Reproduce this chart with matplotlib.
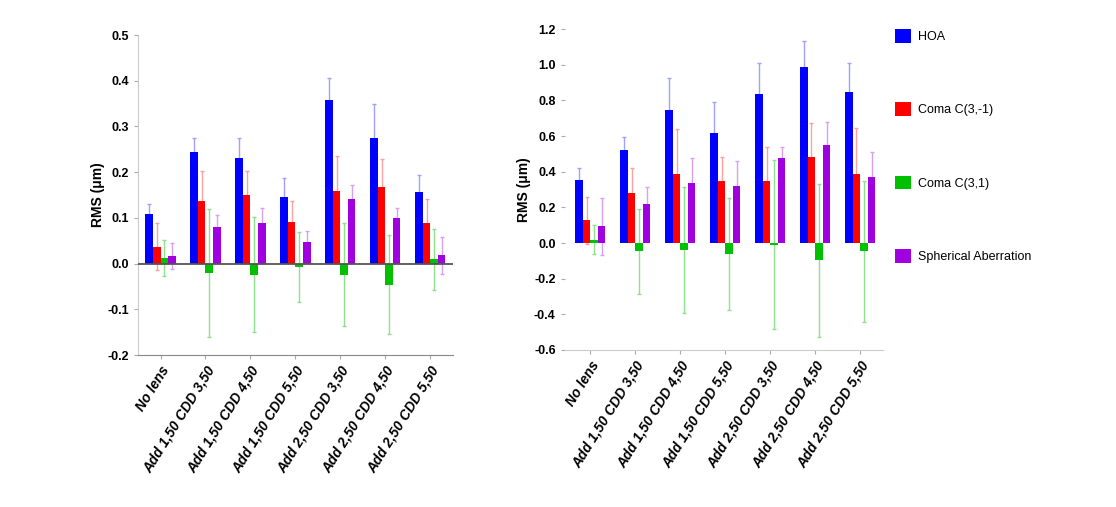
import matplotlib.pyplot as plt
import numpy as np

plt.rcParams['font.family'] = ['Liberation Sans', 'DejaVu Sans']

groups = ["No lens", "Add 1,50 CDD 3,50", "Add 1,50 CDD 4,50", "Add 1,50 CDD 5,50",
          "Add 2,50 CDD 3,50", "Add 2,50 CDD 4,50", "Add 2,50 CDD 5,50"]
series = ["HOA", "Coma C(3,-1)", "Coma C(3,1)", "Spherical Aberration"]

# left panel (mean, sd)
hoa_l = [0.108, 0.244, 0.231, 0.145, 0.359, 0.274, 0.156]
hoa_l_sd = [0.022, 0.030, 0.043, 0.042, 0.048, 0.076, 0.037]
cm1_l = [0.037, 0.138, 0.150, 0.092, 0.158, 0.168, 0.089]
cm1_l_sd = [0.052, 0.064, 0.052, 0.045, 0.077, 0.061, 0.052]
cp1_l = [0.012, -0.021, -0.024, -0.008, -0.024, -0.046, 0.009]
cp1_l_sd = [0.040, 0.140, 0.126, 0.077, 0.113, 0.109, 0.067]
sph_l = [0.016, 0.080, 0.088, 0.047, 0.142, 0.100, 0.018]
sph_l_sd = [0.028, 0.026, 0.034, 0.025, 0.029, 0.022, 0.040]

# right panel (mean, sd)
hoa_r = [0.352, 0.521, 0.745, 0.618, 0.833, 0.989, 0.846]
hoa_r_sd = [0.071, 0.075, 0.182, 0.174, 0.174, 0.144, 0.161]
cm1_r = [0.127, 0.281, 0.386, 0.345, 0.345, 0.481, 0.386]
cm1_r_sd = [0.130, 0.142, 0.253, 0.136, 0.196, 0.193, 0.260]
cp1_r = [0.019, -0.047, -0.039, -0.062, -0.010, -0.097, -0.047]
cp1_r_sd = [0.080, 0.240, 0.355, 0.315, 0.475, 0.430, 0.395]
sph_r = [0.094, 0.221, 0.337, 0.318, 0.474, 0.552, 0.371]
sph_r_sd = [0.160, 0.094, 0.137, 0.141, 0.065, 0.124, 0.140]

colors = ['#0000ff', '#ff0000', '#00c000', '#a000e0']
err_colors = ['#a0a0ff', '#ffa0a0', '#90e090', '#d8a0f0']

fig = plt.figure(figsize=(11.16, 5.07), dpi=100)
ax1 = fig.add_axes([0.1237, 0.2998, 0.282, 0.631])
ax2 = fig.add_axes([0.506, 0.3097, 0.285, 0.633])

x = np.arange(len(groups))
w = 0.168
offsets = [-1.5 * w, -0.5 * w, 0.5 * w, 1.5 * w]


def draw(ax, means, sds):
    handles = []
    for i in range(4):
        xs = x + offsets[i]
        ax.errorbar(xs, means[i], yerr=sds[i], fmt='none', ecolor=err_colors[i],
                    elinewidth=1, capsize=1.5, capthick=1, zorder=1)
        b = ax.bar(xs, means[i], width=w, color=colors[i], edgecolor='none',
                   label=series[i], zorder=2)
        handles.append(b)
    ax.set_xticks(x)
    ax.set_xticklabels(groups, rotation=58, ha='right', rotation_mode='anchor',
                       fontsize=10, fontstyle='italic', fontweight='bold')
    ax.set_ylabel('RMS (\u03bcm)', fontsize=10, fontweight='bold', labelpad=2)
    for s in ['top', 'right']:
        ax.spines[s].set_visible(False)
    return handles


handles = draw(ax1, [hoa_l, cm1_l, cp1_l, sph_l], [hoa_l_sd, cm1_l_sd, cp1_l_sd, sph_l_sd])
ax1.set_xlim(-0.5, 6.5)
ax1.set_ylim(-0.2, 0.5)
ax1.set_yticks(np.arange(-0.2, 0.51, 0.1))
ax1.set_yticklabels(['%.1f' % v for v in np.arange(-0.2, 0.51, 0.1)], fontsize=9, fontweight='bold')
ax1.axhline(0, color='#555555', lw=1.3, zorder=3)
ax1.spines['left'].set_color('#cccccc')
ax1.spines['bottom'].set_color('#888888')
ax1.tick_params(axis='y', length=3, color='#aaaaaa')
ax1.tick_params(axis='x', length=3, color='#aaaaaa')

draw(ax2, [hoa_r, cm1_r, cp1_r, sph_r], [hoa_r_sd, cm1_r_sd, cp1_r_sd, sph_r_sd])
ax2.set_xlim(-0.57, 6.5)
ax2.set_ylim(-0.6, 1.2)
ax2.set_yticks(np.arange(-0.6, 1.21, 0.2))
ax2.set_yticklabels(['%.1f' % v for v in np.arange(-0.6, 1.21, 0.2)], fontsize=9, fontweight='bold')
ax2.spines['left'].set_visible(False)
ax2.spines['bottom'].set_color('#cccccc')
ax2.tick_params(axis='y', length=3, color='#aaaaaa', direction='out')
ax2.tick_params(axis='x', length=3, color='#aaaaaa')

fig.legend(handles=handles, labels=series, loc='upper left', bbox_to_anchor=(0.792, 0.965),
           frameon=False, fontsize=9, handlelength=1.3, handleheight=1.3,
           handletextpad=0.5, labelspacing=4.75)

fig.savefig('out.png', dpi=100)
